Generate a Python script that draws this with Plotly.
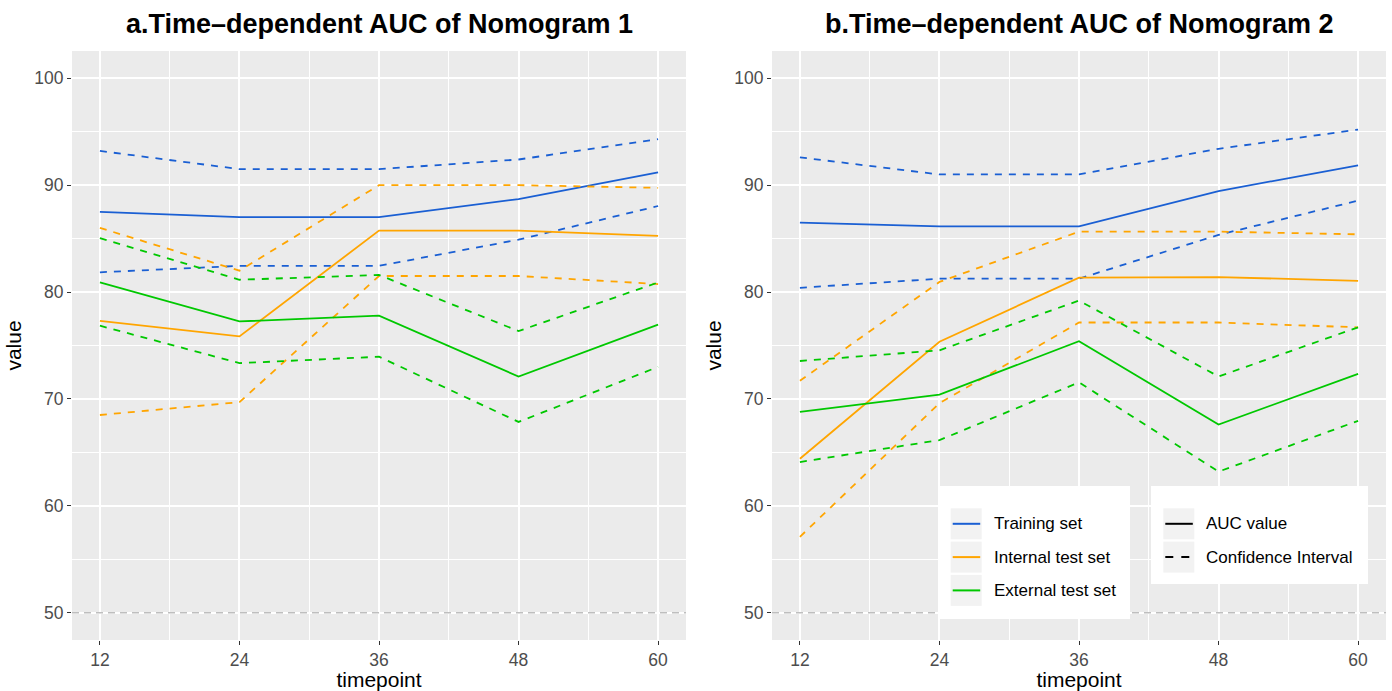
import plotly.graph_objects as go

timepoints = [12, 24, 36, 48, 60]

# Nomogram 1
n1_train_auc = [87.5, 87.0, 87.0, 88.7, 91.2]
n1_train_up = [93.2, 91.5, 91.5, 92.4, 94.3]
n1_train_lo = [81.85, 82.45, 82.45, 84.9, 88.05]
n1_int_auc = [77.3, 75.85, 85.75, 85.75, 85.25]
n1_int_up = [86.0, 82.0, 90.0, 90.0, 89.75]
n1_int_lo = [68.5, 69.7, 81.5, 81.5, 80.75]
n1_ext_auc = [80.9, 77.25, 77.8, 72.1, 76.95]
n1_ext_up = [85.05, 81.15, 81.6, 76.35, 80.9]
n1_ext_lo = [76.85, 73.35, 73.95, 67.85, 73.0]

# Nomogram 2
n2_train_auc = [86.5, 86.15, 86.15, 89.45, 91.85]
n2_train_up = [92.6, 91.0, 91.0, 93.4, 95.2]
n2_train_lo = [80.4, 81.25, 81.25, 85.35, 88.55]
n2_int_auc = [64.4, 75.35, 81.35, 81.4, 81.05]
n2_int_up = [71.7, 80.95, 85.65, 85.65, 85.4]
n2_int_lo = [57.1, 69.6, 77.15, 77.15, 76.7]
n2_ext_auc = [68.8, 70.4, 75.4, 67.6, 72.35]
n2_ext_up = [73.55, 74.55, 79.2, 72.1, 76.7]
n2_ext_lo = [64.1, 66.15, 71.55, 63.2, 67.95]

set_names = ["Training set", "Internal test set", "External test set"]
set_colors = ["#1a5fd3", "#FFA500", "#00C800"]
type_names = ["AUC value", "Confidence Interval"]
type_dashes = ["solid", "8px,8px"]
titles = ["a.Time\u2013dependent AUC of Nomogram 1", "b.Time\u2013dependent AUC of Nomogram 2"]
x_ticks = [12, 24, 36, 48, 60]
y_ticks = [50, 60, 70, 80, 90, 100]

panels = [
    [(n1_train_auc, n1_train_up, n1_train_lo), (n1_int_auc, n1_int_up, n1_int_lo), (n1_ext_auc, n1_ext_up, n1_ext_lo)],
    [(n2_train_auc, n2_train_up, n2_train_lo), (n2_int_auc, n2_int_up, n2_int_lo), (n2_ext_auc, n2_ext_up, n2_ext_lo)],
]

W, H = 1392, 691
DASH = "7px,7px"
LW = 1.8

fig = go.Figure()
for p, sets in enumerate(panels):
    xa = "x" if p == 0 else "x2"
    ya = "y" if p == 0 else "y2"
    for s, (auc, up, lo) in enumerate(sets):
        for vals, dash in ((up, DASH), (lo, DASH), (auc, "solid")):
            fig.add_trace(go.Scatter(
                x=timepoints, y=vals, mode="lines", xaxis=xa, yaxis=ya,
                line=dict(color=set_colors[s], width=LW, dash=dash),
                showlegend=False, hoverinfo="skip"))


def px_x(v):
    return v / W


def px_y(v):
    return 1 - v / H


grey_text = "#4D4D4D"
font_family = "Liberation Sans, Arial, sans-serif"

axis_common = dict(
    range=[9.6, 62.4], tickvals=x_ticks, ticks="outside", ticklen=4, tickcolor="#333333", tickwidth=1.1,
    showgrid=True, gridcolor="white", gridwidth=1.5, zeroline=False, showline=False,
    tickfont=dict(size=17.5, color=grey_text, family=font_family),
    minor=dict(tickvals=[18, 30, 42, 54], showgrid=True, gridcolor="white", gridwidth=0.7, ticks=""),
    title=dict(text="timepoint", font=dict(size=21, color="black", family=font_family), standoff=0),
)
yaxis_common = dict(
    range=[47.45, 102.55], tickvals=y_ticks, ticks="outside", ticklen=4, tickcolor="#333333", tickwidth=1.1,
    showgrid=True, gridcolor="white", gridwidth=1.5, zeroline=False, showline=False,
    tickfont=dict(size=17.5, color=grey_text, family=font_family),
    minor=dict(tickvals=[55, 65, 75, 85, 95], showgrid=True, gridcolor="white", gridwidth=0.7, ticks=""),
    title=dict(text="value", font=dict(size=21, color="black", family=font_family), standoff=6),
)

y_dom = [px_y(640), px_y(51)]
fig.update_layout(
    width=W, height=H,
    margin=dict(l=0, r=0, t=0, b=0),
    paper_bgcolor="white", plot_bgcolor="#EBEBEB",
    font=dict(family=font_family),
    xaxis=dict(domain=[px_x(72), px_x(686)], anchor="y", **axis_common),
    yaxis=dict(domain=y_dom, anchor="x", **yaxis_common),
    xaxis2=dict(domain=[px_x(772), px_x(1386)], anchor="y2", **axis_common),
    yaxis2=dict(domain=y_dom, anchor="x2", **yaxis_common),
    showlegend=False,
)

for p, xr in enumerate(["x", "x2"]):
    yr = "y" if p == 0 else "y2"
    fig.add_shape(type="line", xref=xr + " domain", yref=yr, x0=0, x1=1, y0=50, y1=50,
                  line=dict(color="#BEBEBE", width=1.6, dash="7px,5px"), layer="above")
    cx = (72 + 686) / 2 if p == 0 else (772 + 1386) / 2
    fig.add_annotation(text="<b>" + titles[p] + "</b>", xref="paper", yref="paper",
                       x=px_x(cx), y=px_y(24), xanchor="center", yanchor="middle", showarrow=False,
                       font=dict(size=27, color="black", family=font_family))


# manual legends (ggplot-style boxes with grey key backgrounds)
def add_legend(box, key_x, text_x, names, colors, dashes):
    x0, y0, x1, y1 = box
    fig.add_shape(type="rect", xref="paper", yref="paper", x0=px_x(x0), x1=px_x(x1),
                  y0=px_y(y1), y1=px_y(y0), fillcolor="white", line=dict(width=0), layer="above")
    for i, name in enumerate(names):
        top = 508.3 + i * 33.3
        bot = top + 31
        cy = (top + bot) / 2
        fig.add_shape(type="rect", xref="paper", yref="paper", x0=px_x(key_x), x1=px_x(key_x + 31),
                      y0=px_y(bot), y1=px_y(top), fillcolor="#F2F2F2", line=dict(width=0), layer="above")
        fig.add_shape(type="line", xref="paper", yref="paper", x0=px_x(key_x + 2), x1=px_x(key_x + 29.5),
                      y0=px_y(cy), y1=px_y(cy), line=dict(color=colors[i], width=2, dash=dashes[i]),
                      layer="above")
        fig.add_annotation(text=name, xref="paper", yref="paper", x=px_x(text_x), y=px_y(cy),
                           xanchor="left", yanchor="middle", showarrow=False,
                           font=dict(size=17, color="black", family=font_family))


add_legend((938, 486, 1130, 619), 950.7, 992, set_names, set_colors, ["solid"] * 3)
add_legend((1151, 486, 1368, 584), 1163.3, 1204, type_names, ["black", "black"], type_dashes)

fig.write_html("out.html", config={"displayModeBar": False},
               post_script="document.body.style.margin='0px';")
